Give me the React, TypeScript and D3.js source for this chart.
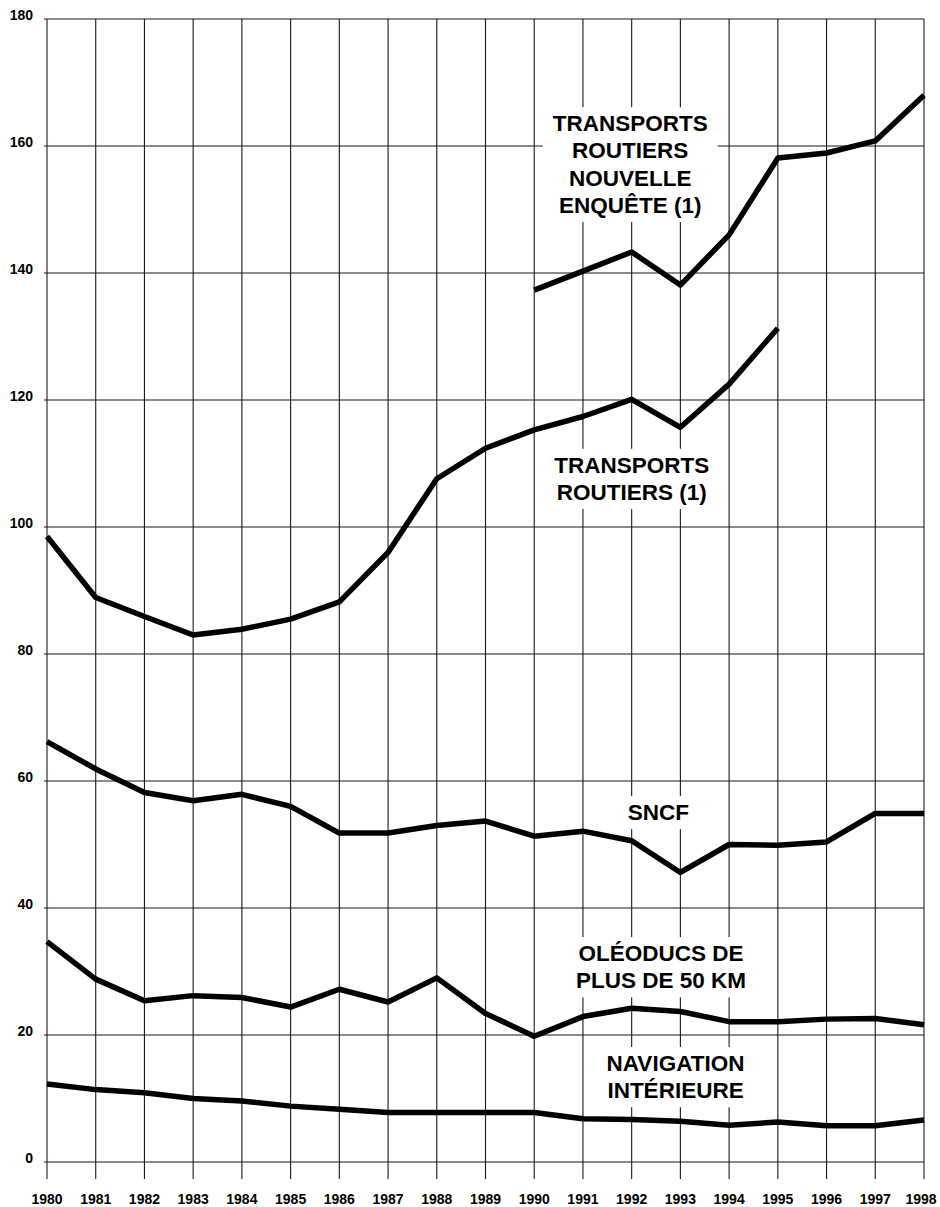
import React, {useEffect, useRef} from "react";
import * as d3 from "d3";

// years on the x axis
const years = [1980, 1981, 1982, 1983, 1984, 1985, 1986, 1987, 1988, 1989,
    1990, 1991, 1992, 1993, 1994, 1995, 1996, 1997, 1998];
const yTicks = [0, 20, 40, 60, 80, 100, 120, 140, 160, 180];

// series
const routiersYears = years.slice(0, 16);
const routiers = [98.5, 88.9, 85.9, 83.0, 83.9, 85.5, 88.2, 96.0, 107.6, 112.4,
    115.3, 117.4, 120.1, 115.7, 122.5, 131.3];
const enqueteYears = years.slice(10);
const enquete = [137.3, 140.3, 143.3, 138.1, 146.0, 158.1, 158.9, 160.8, 168.0];
const sncf = [66.2, 61.9, 58.2, 56.9, 57.9, 56.0, 51.8, 51.8, 53.0, 53.7,
    51.3, 52.1, 50.6, 45.6, 50.0, 49.9, 50.4, 54.9, 54.9];
const oleoducs = [34.7, 28.8, 25.4, 26.2, 25.9, 24.4, 27.2, 25.2, 29.0, 23.4,
    19.8, 22.9, 24.2, 23.7, 22.1, 22.1, 22.5, 22.6, 21.6];
const navigation = [12.3, 11.4, 10.9, 10.0, 9.6, 8.8, 8.3, 7.8, 7.8, 7.8,
    7.8, 6.8, 6.7, 6.4, 5.8, 6.3, 5.7, 5.7, 6.6];

// labels: text lines + anchor (year, value) of the first line
const labelTexts = [
    ["TRANSPORTS", "ROUTIERS", "NOUVELLE", "ENQUÊTE (1)"],
    ["TRANSPORTS", "ROUTIERS (1)"],
    ["SNCF"],
    ["OLÉODUCS DE", "PLUS DE 50 KM"],
    ["NAVIGATION", "INTÉRIEURE"],
];
const labelAnchors = [
    [1991.97, 163.6],
    [1992.0, 109.8],
    [1992.55, 55.1],
    [1992.6, 32.9],
    [1992.9, 15.6],
];

function App() {
    const svgRef = useRef();
    const width = 940;
    const height = 1207;

    useEffect(() => {
        const svg = d3.select(svgRef.current);
        svg.selectAll("*").remove();

        const x = d3.scaleLinear().domain([1980, 1998]).range([47, 924]);
        const y = d3.scaleLinear().domain([0, 180]).range([1162, 19]);
        const font = "'Liberation Sans', Arial, Helvetica, sans-serif";

        // grid
        const grid = svg.append("g").attr("stroke", "#1a1a1a").attr("stroke-width", 1.1);
        grid.selectAll("line.v")
            .data(years)
            .join("line")
            .attr("class", "v")
            .attr("x1", d => x(d)).attr("x2", d => x(d))
            .attr("y1", y(180)).attr("y2", y(0) + 17);
        grid.selectAll("line.h")
            .data(yTicks)
            .join("line")
            .attr("class", "h")
            .attr("x1", x(1980) - 3).attr("x2", x(1998))
            .attr("y1", d => y(d)).attr("y2", d => y(d));

        // axis labels
        svg.append("g")
            .selectAll("text")
            .data(yTicks)
            .join("text")
            .attr("x", 33)
            .attr("y", d => y(d) + 1)
            .attr("text-anchor", "end")
            .style("font-family", font)
            .style("font-weight", "bold")
            .style("font-size", "14px")
            .text(d => d);
        svg.append("g")
            .selectAll("text")
            .data(years)
            .join("text")
            .attr("x", d => Math.min(x(d), 921))
            .attr("y", 1204)
            .attr("text-anchor", "middle")
            .style("font-family", font)
            .style("font-weight", "bold")
            .style("font-size", "14px")
            .text(d => d);

        // label knock-out boxes + text
        const labels = svg.append("g");
        const lineLayer = svg.append("g");
        const textLayer = svg.append("g");
        labelTexts.forEach((lines, i) => {
            const [ly, lv] = labelAnchors[i];
            const g = textLayer.append("g");
            lines.forEach((t, j) => {
                g.append("text")
                    .attr("x", x(ly))
                    .attr("y", y(lv) + 8 + j * 27.3)
                    .attr("text-anchor", "middle")
                    .style("font-family", font)
                    .style("font-weight", "bold")
                    .style("font-size", "22.5px")
                    .text(t);
            });
            const b = g.node().getBBox();
            labels.append("rect")
                .attr("x", b.x - 10)
                .attr("y", b.y - 4)
                .attr("width", b.width + 20)
                .attr("height", b.height + 8)
                .attr("fill", "white");
        });

        // series lines
        const line = d3.line().x(d => x(d[0])).y(d => y(d[1]));
        const series = [
            d3.zip(routiersYears, routiers),
            d3.zip(enqueteYears, enquete),
            d3.zip(years, sncf),
            d3.zip(years, oleoducs),
            d3.zip(years, navigation),
        ];
        lineLayer.selectAll("path")
            .data(series)
            .join("path")
            .attr("d", line)
            .attr("fill", "none")
            .attr("stroke", "black")
            .attr("stroke-width", 5.5)
            .attr("stroke-linejoin", "round");
    }, []);

    return (
        <svg ref={svgRef} width={width} height={height}
             style={{position: "absolute", left: 0, top: 0, background: "white"}}/>
    );
}

export default App;
